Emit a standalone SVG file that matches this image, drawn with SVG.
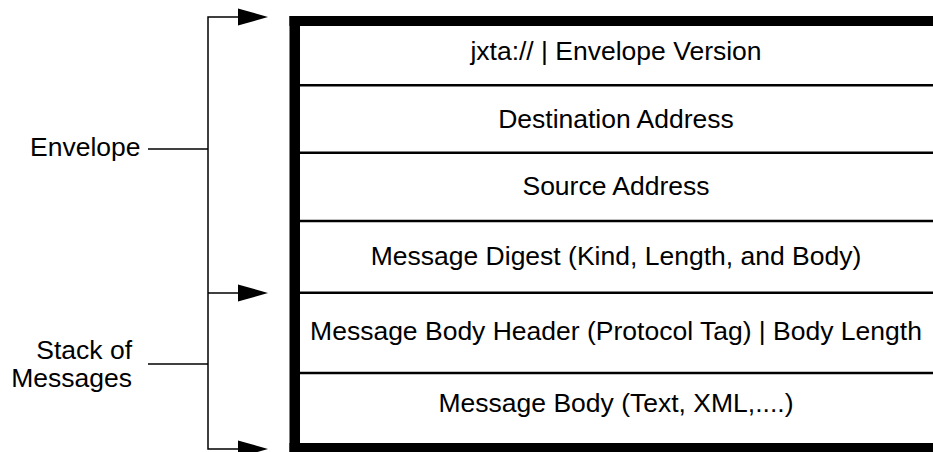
<svg xmlns="http://www.w3.org/2000/svg" width="933" height="452" viewBox="0 0 933 452">
<style>
text{font-family:"Liberation Sans",Arial,sans-serif;font-size:26.5px;fill:#000}
.row{text-anchor:middle}
.thin{stroke:#000;stroke-width:1.5;fill:none}
.div{stroke:#000;stroke-width:2.5}
.ah{fill:#000}
</style>
<rect width="933" height="452" fill="#fff"/>
<g id="envelope-box">
<rect x="289.5" y="16" width="10.5" height="436" fill="#000"/>
<rect x="289.5" y="16" width="643.5" height="10" fill="#000"/>
<rect x="289.5" y="443" width="643.5" height="9" fill="#000"/>
</g>
<g id="row-version"><line class="div" x1="300" y1="85.3" x2="933" y2="85.3"/><text class="row" x="616" y="60">jxta:// | Envelope Version</text></g>
<g id="row-destination"><line class="div" x1="300" y1="152.7" x2="933" y2="152.7"/><text class="row" x="616" y="128">Destination Address</text></g>
<g id="row-source"><line class="div" x1="300" y1="221" x2="933" y2="221"/><text class="row" x="616" y="195">Source Address</text></g>
<g id="row-digest"><line class="div" x1="300" y1="292.7" x2="933" y2="292.7"/><text class="row" x="616" y="265">Message Digest (Kind, Length, and Body)</text></g>
<g id="row-body-header"><line class="div" x1="300" y1="373" x2="933" y2="373"/><text class="row" x="616" y="340">Message Body Header (Protocol Tag) | Body Length</text></g>
<g id="row-body"><text class="row" x="616" y="412">Message Body (Text, XML,....)</text></g>
<g id="label-envelope"><text x="30" y="156">Envelope</text></g>
<g id="label-stack"><text x="132" y="359" text-anchor="end">Stack of</text><text x="132" y="387" text-anchor="end">Messages</text></g>
<g id="connectors">
<path class="thin" d="M241,17 H208 V449 H241"/>
<line class="thin" x1="208" y1="293" x2="241" y2="293"/>
<line class="thin" x1="148" y1="149" x2="208" y2="149"/>
<line class="thin" x1="148" y1="364" x2="208" y2="364"/>
<polygon class="ah" points="238,8.5 268,17 238,25.5"/>
<polygon class="ah" points="238,284.5 268,293 238,301.5"/>
<polygon class="ah" points="238,440.5 268,449 238,457.5"/>
</g>
</svg>
